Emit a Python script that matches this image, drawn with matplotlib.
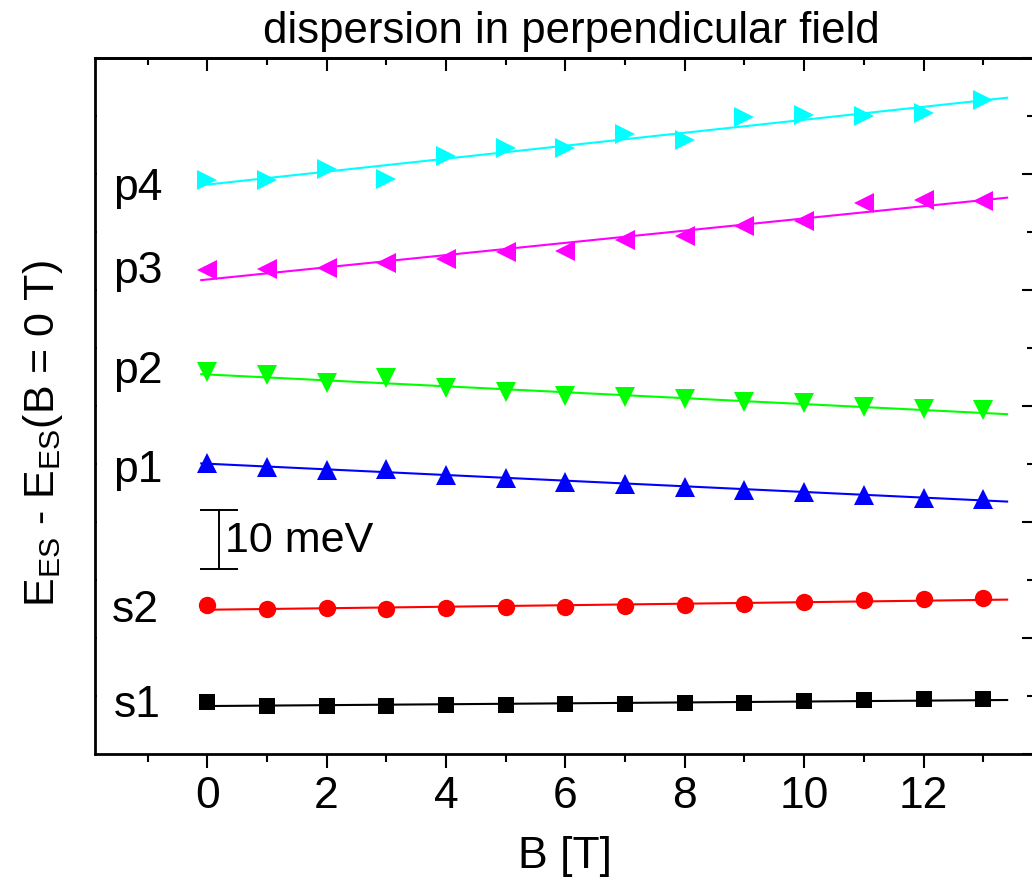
import numpy as np
import matplotlib
matplotlib.use('Agg')
import matplotlib.pyplot as plt
from matplotlib.ticker import MultipleLocator, NullFormatter

plt.rcParams['font.family'] = ['Liberation Sans', 'DejaVu Sans']
plt.rcParams['mathtext.fontset'] = 'custom'
plt.rcParams['mathtext.rm'] = 'Liberation Sans'
plt.rcParams['mathtext.it'] = 'Liberation Sans:italic'

# magnetic field [T]
B = [0, 1, 2, 3, 4, 5, 6, 7, 8, 9, 10, 11, 12, 13]

# energy shifts (meV, offset per state for display)
s1 = [8.91, 8.33, 8.33, 8.33, 8.45, 8.50, 8.57, 8.62, 8.74, 8.79, 9.14, 9.26, 9.43, 9.43]
s2 = [25.69, 25.00, 25.12, 25.05, 25.12, 25.29, 25.40, 25.52, 25.74, 25.91, 26.21, 26.50, 26.67, 26.84]
p1 = [50.12, 49.40, 49.00, 49.10, 48.07, 47.67, 46.86, 46.52, 46.12, 45.55, 45.12, 44.69, 44.22, 43.93]
p2 = [65.78, 65.34, 64.05, 64.79, 63.05, 62.45, 61.67, 61.52, 61.24, 60.64, 60.47, 59.88, 59.48, 59.28]
p3 = [83.45, 83.66, 83.71, 84.60, 85.38, 86.52, 86.81, 88.62, 89.28, 91.12, 91.98, 95.00, 95.60, 95.43]
p4 = [99.02, 98.97, 100.78, 99.10, 103.07, 104.45, 104.45, 106.93, 105.91, 109.83, 110.22, 110.03, 110.52, 112.84]

names = ['s1', 's2', 'p1', 'p2', 'p3', 'p4']
series = [s1, s2, p1, p2, p3, p4]
colors = ['black', '#ff0000', '#0000ff', '#00ff00', '#ff00ff', '#00ffff']
markers = ['s', 'o', '^', 'v', '<', '>']
msizes = [11, 12.5, 14, 14, 14, 14]
# where the state names sit (data coords, baseline)
name_pos = [(-1.57, 6.4), (-1.6, 22.8), (-1.57, 46.9), (-1.57, 64.0), (-1.57, 81.2), (-1.57, 95.5)]

W, H = 1032, 877
fig = plt.figure(figsize=(W / 100, H / 100), dpi=100)
ax = fig.add_axes([95 / W, (H - 754) / H, (1034 - 95) / W, (754 - 58) / H])

xfit = np.array([-0.1, 13.4])
for vals, c, m, ms in zip(series, colors, markers, msizes):
    k, b0 = np.polyfit(B, vals, 1)
    ax.plot(xfit, k * xfit + b0, color=c, lw=1.5, zorder=2)
    ax.plot(B, vals, linestyle='none', marker=m, ms=ms, color=c, mew=0, zorder=3)

for name, (tx, ty) in zip(names, name_pos):
    ax.text(tx, ty, name, fontsize=32, ha='left', va='baseline')

# 10 meV scale bar
ax.errorbar([0.2], [37.0], yerr=[5.1], color='black', lw=1.4, capsize=14, capthick=1.4)
ax.text(0.3, 34.8, '10 meV', fontsize=31, ha='left', va='baseline')

ax.set_xlim(-1.88, 13.85)
ax.set_ylim(0, 120)

for side in ['left', 'bottom', 'top', 'right']:
    ax.spines[side].set_linewidth(2.0)

ax.xaxis.set_major_locator(MultipleLocator(2))
ax.xaxis.set_minor_locator(MultipleLocator(1))
ax.yaxis.set_major_locator(MultipleLocator(20))
ax.yaxis.set_minor_locator(MultipleLocator(10))
ax.yaxis.set_major_formatter(NullFormatter())
ax.tick_params(axis='x', which='both', direction='out', top=False, width=1.5, labelsize=32, pad=6)
ax.tick_params(axis='x', which='major', length=10)
ax.tick_params(axis='x', which='minor', length=5.5)
ax.tick_params(axis='y', which='both', direction='in', right=False, length=1.5, width=1.5)

top = ax.secondary_xaxis('top')
top.xaxis.set_major_locator(MultipleLocator(2))
top.xaxis.set_minor_locator(MultipleLocator(1))
top.tick_params(axis='x', which='both', direction='in', width=1.5, labeltop=False)
top.tick_params(axis='x', which='major', length=9.5)
top.tick_params(axis='x', which='minor', length=5)
top.spines['top'].set_linewidth(2.0)

right = ax.secondary_yaxis('right')
right.yaxis.set_major_locator(MultipleLocator(20))
right.yaxis.set_minor_locator(MultipleLocator(10))
right.tick_params(axis='y', which='both', direction='in', width=1.5, labelright=False)
right.tick_params(axis='y', which='major', length=8.5)
right.tick_params(axis='y', which='minor', length=5)

fig.text(571 / W, 1 - 43 / H, 'dispersion in perpendicular field', fontsize=31.5,
         ha='center', va='baseline')
fig.text(565 / W, 1 - 868 / H, 'B [T]', fontsize=32, ha='center', va='baseline')
fig.text(43.5 / W, 1 - 434 / H, r'E$_{\mathrm{ES}}$ - E$_{\mathrm{ES}}$(B = 0 T)', fontsize=31,
         rotation=90, ha='center', va='center')

fig.savefig('out.png', dpi=100)
